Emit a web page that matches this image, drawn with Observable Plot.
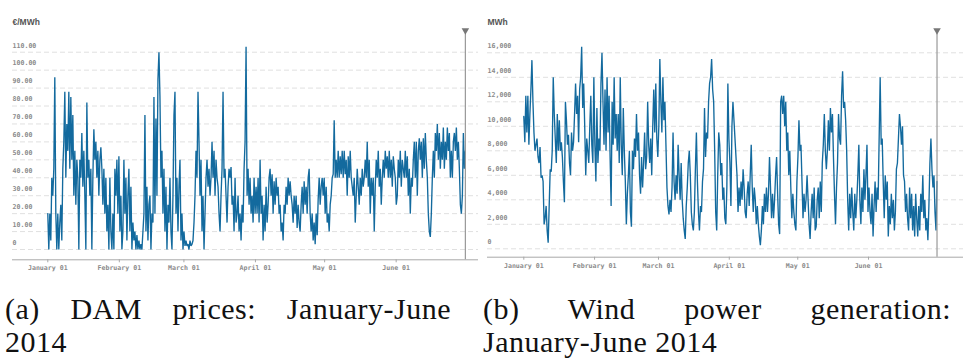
<!DOCTYPE html>
<html><head><meta charset="utf-8">
<script src="https://cdn.jsdelivr.net/npm/d3@7"></script>
<script src="https://cdn.jsdelivr.net/npm/@observablehq/plot@0.6"></script>
<style>
html,body{margin:0;padding:0;background:#fff}
body{width:963px;height:358px;overflow:hidden;position:relative}
#a,#b{position:absolute;top:0}
#a{left:0}
#b{left:480px}
.cap{position:absolute;top:292px;font-family:"Liberation Serif",serif;font-size:30px;line-height:33px;color:#111;letter-spacing:0.5px;white-space:nowrap}
.l1{text-align:justify;text-align-last:justify;white-space:normal}
</style></head><body>
<div id="a"></div><div id="b"></div>
<div class="cap" style="left:5px;width:446px"><div class="l1">(a) DAM prices: January-June</div><div>2014</div></div>
<div class="cap" style="left:483px;width:468px"><div class="l1">(b) Wind power generation:</div><div>January-June 2014</div></div>
<script>
// ---- data ----
const xTickDates = ["2014-01-01","2014-02-01","2014-03-01","2014-04-01","2014-05-01","2014-06-01"];
const xTickLabels = ["January 01","February 01","March 01","April 01","May 01","June 01"];
const seriesStart = "2014-01-01";
const seriesEnd = "2014-07-01";

const priceTicks = [0,10,20,30,40,50,60,70,80,90,100,110];
const windTicks = [0,2,4,6,8,10,12,14,16]; // thousands of MWh

// DAM prices (€/MWh), evenly spaced samples Jan 1 – Jun 30
const damPrices = [
20,0,20,5,40,30,45,96,20,0,20,0,15,25,5,45,60,88,40,70,55,88,45,85,50,75,30,55,25,50,40,0,50,40,65,35,55,30,0,82,
40,50,30,45,0,40,67,50,60,40,55,30,50,57,45,25,45,20,40,10,25,0,40,10,0,20,0,45,30,50,20,52,10,30,0,10,50,20,40,5,
30,45,10,35,0,15,5,10,0,8,0,5,0,3,0,10,20,75,10,35,5,25,30,0,20,15,85,20,73,30,95,110,85,40,55,20,45,10,35,0,
25,15,40,10,0,30,75,88,20,40,10,35,50,5,20,0,10,2,5,2,3,0,5,2,3,5,15,30,55,40,88,60,30,50,10,30,0,20,40,50,
35,45,30,40,60,40,55,30,50,40,35,20,10,30,45,88,40,45,30,15,35,45,40,46,25,30,10,40,15,20,30,10,20,5,25,15,45,60,113,30,
45,25,40,20,30,15,40,20,
35,20,40,15,50,20,30,5,25,10,35,15,25,40,45,30,42,20,38,25,40,30,35,20,25,10,15,5,25,20,35,25,40,30,38,30,25,15,30,20,
30,12,25,15,10,25,35,20,38,25,35,20,40,45,20,10,20,5,15,3,20,8,28,40,25,35,40,30,40,20,35,15,20,10,25,30,40,42,72,40,
50,40,55,40,52,42,55,40,55,42,50,30,52,40,55,40,35,30,40,15,30,45,35,25,40,30,45,35,40,50,40,60,35,50,20,40,30,40,10,35,
50,40,55,35,45,25,40,50,40,55,45,52,40,55,40,50,35,52,45,40,25,30,50,40,55,35,50,45,40,55,40,52,30,45,20,40,35,50,60,40,
60,30,55,62,50,60,40,62,45,65,50,40,20,10,7,20,40,55,40,65,55,70,50,65,45,60,50,68,45,60,50,68,55,65,40,55,40,60,65,55,
68,50,60,45,25,20,30,65,45,55
];

// Wind power generation (thousand MWh), evenly spaced samples Jan 1 – Jun 30
const windK = [
10.8,8.7,12.5,9.5,12.5,8.5,11,13,15.4,12,9.5,8,8.5,9,7.5,7,8.3,5.8,6,5.5,2,2.5,3.5,1.5,0.5,3.5,6.5,6.3,8,
14,11,9,7,11,8,10.5,8,8.7,7.5,5.5,3.8,12,10.5,8.5,9.3,7,6,9.5,8,8.7,11,13.5,11,12.5,8.7,13,14,16.5,11.5,13.5,10,6,9,8,7,10,12.5,8.5,7,14,
8.5,5.5,11.5,7,9,8,13.5,16,12,8.5,13,8,14,9.5,12.5,7.5,3.5,12,8.5,14,9,11,8,11,7,14,8.5,6,11.5,8,5.5,2,4.5,6,8,3,1.8,8,6.5,9,7.5,11,
8,9.5,6,4.5,7.5,5,7,9.5,6.5,7.5,12,8.5,7,9,6,10,13,9.5,13.5,9,7.5,10,15.5,12,9.5,14,10.5,12,8.5,5,3.5,2.8,4,3,5,9.5,5.5,4,6,4.5,8.5,
6,4,7,4,2.5,1.5,0.8,3.5,5,7,8,6,3,2,1.5,3,6.5,9.5,5.5,3,1.5,3.5,3,5.5,6.5,11.5,7.5,9.5,9,12,13.5,14,15.5,13,12,8,3,1.5,6,9.5,
8.5,6,7,4,5,2.5,2,5,13.5,9,7,3.5,10,12,10.5,9,7.5,6,3,5,3.5,5.5,4,6.5,5,3,2.5,4.5,5.5,3.5,6,8.5,5,3,5,4,2,3.5,2,1,0.3,1.5,
3.5,2,4.5,3,5,3,4.5,7.5,5,2.5,4.5,2.5,4,6,7.5,4.5,2,1.2,12,12.5,11,12.5,10,12,8,9.5,6,8,5,2.5,4.5,3,2,1.5,5.5,7.5,10.5,8,
8.5,5.5,2.5,4.5,3,4,6,4,2,0.8,3,4.5,2.5,5,1.5,1.8,4,5,2.5,5.5,3,7,8.5,11,8,6.5,8,10.5,8,11.5,9.5,11,7.5,4.5,2,5,7,11,9,8.5,
12.5,14.5,11.5,12,10.5,8,4,1.5,4.5,2.5,5,3,1.5,4.5,2.5,4,6,8.5,4,2,5,3,6.5,4,6,8.5,3,5,3,2,4.5,1,3.5,5.5,3,5,4,9,14,8.5,
9,5.5,2.5,6,4,5.5,1,3.5,2,4.5,2.5,4,1.5,3,6.5,7,9,11,10,8.5,10,6,5.5,3,4.5,2.5,1.5,5,2.5,4.5,1.5,3.5,1,4.5,2.5,1,3.5,1.5,
4.5,3,6,2.5,4,1.5,2.5,0.7,3.5,7,9,6.5,5,6,3,1.5,5.5
];

// ---- build ----
const DAY = 864e5;
const t0 = new Date(seriesStart + "T00:00:00Z").getTime();
const t1 = new Date(seriesEnd + "T00:00:00Z").getTime();
const tickDates = xTickDates.map(s => new Date(s + "T00:00:00Z"));
const endDate = new Date(t1);
function table(vals) {
  const n = vals.length;
  return vals.map((v, i) => ({t: new Date(t0 + i * (t1 - t0) / (n - 1)), v}));
}
const fmtX = d => xTickLabels[tickDates.findIndex(t => +t === +d)];

function panel({data, width, height, mL, mR, mT, mB, xDomain, yDomain, yTicks, yFmt, unit}) {
  return Plot.plot({
    width, height, marginLeft: mL, marginRight: mR, marginTop: mT, marginBottom: mB,
    style: {background: "transparent", overflow: "visible", fontFamily: "DejaVu Sans Mono", fontSize: "6.6px", fontWeight: "bold"},
    x: {type: "utc", domain: xDomain},
    y: {domain: yDomain},
    marks: [
      Plot.ruleY(yTicks, {stroke: "#e0e0e0", strokeWidth: 1, strokeDasharray: "5,3"}),
      Plot.axisY({ticks: yTicks, tickFormat: yFmt, tickSize: 0, tickPadding: 0, textAnchor: "start", dy: -6.8,
        fill: "#8a8a8a", fontFamily: "DejaVu Sans Mono", fontSize: 6.6, fontWeight: "bold", label: null}),
      Plot.line(data, {x: "t", y: "v", stroke: "#136a9e", strokeWidth: 1.35, strokeLinejoin: "miter", strokeMiterlimit: 2}),
      Plot.ruleY([yDomain[0]], {stroke: "#a8a8a8", strokeWidth: 1}),
      Plot.axisX({ticks: tickDates, tickFormat: fmtX, tickSize: 3, tickPadding: 3, stroke: "#a8a8a8",
        fill: "#8a8a8a", fontFamily: "DejaVu Sans Mono", fontSize: 6.6, fontWeight: "bold", label: null}),
      Plot.ruleX([endDate], {stroke: "#999", strokeWidth: 1.2}),
      Plot.dot([endDate], {x: d => d, frameAnchor: "top", symbol: "triangle", rotate: 180, r: 2.8, fill: "#777", stroke: null}),
      Plot.text([unit], {frameAnchor: "top-left", dy: -12, text: d => d, textAnchor: "start",
        fontFamily: "Liberation Sans", fontWeight: "bold", fontSize: 8.5, fill: "#555"})
    ]
  });
}

const H = 280;
document.getElementById("a").append(panel({
  data: table(damPrices), width: 480, height: H, mL: 12, mR: 2, mT: 30, mB: 20.7,
  xDomain: [new Date(t0 - 15.30 * DAY), new Date(t0 + 186.69 * DAY)],
  yDomain: [-5.74, 122.1], yTicks: priceTicks,
  yFmt: d => d === 0 ? "0" : d.toFixed(2), unit: "€/MWh"
}));
document.getElementById("b").append(panel({
  data: table(windK), width: 483, height: H, mL: 7, mR: 0, mT: 30, mB: 23.3,
  xDomain: [new Date(t0 - 15.90 * DAY), new Date(t0 + 192.6 * DAY)],
  yDomain: [-0.686, 17.82], yTicks: windTicks,
  yFmt: d => d3.format(",")(d * 1000), unit: "MWh"
}));
</script>
</body></html>
